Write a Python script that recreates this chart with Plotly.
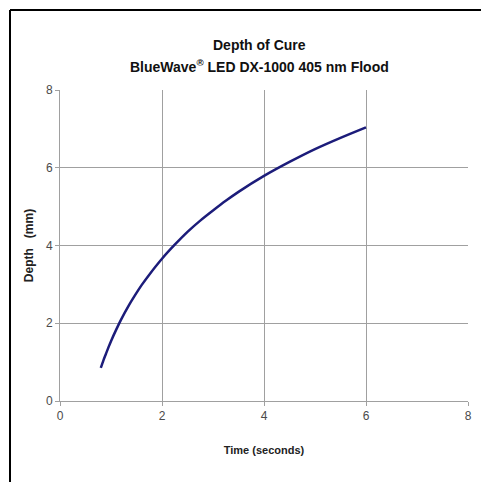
import plotly.graph_objects as go

time_s = [0.8, 0.85, 0.9, 0.95, 1.0, 1.1, 1.2, 1.35, 1.5, 1.6, 1.75, 2.0, 2.25, 2.5, 2.75,
          3.0, 3.25, 3.5, 4.0, 4.5, 5.0, 5.5, 6.0]
depth_mm = [0.85, 1.04, 1.21, 1.38, 1.54, 1.83, 2.1, 2.46, 2.78, 2.98, 3.25, 3.66, 4.02, 4.35,
            4.64, 4.9, 5.15, 5.38, 5.79, 6.15, 6.48, 6.77, 7.04]
x_ticks = [0, 2, 4, 6, 8]
y_ticks = [0, 2, 4, 6, 8]
title_lines = ["Depth of Cure", "BlueWave<sup>®</sup> LED DX-1000 405 nm Flood"]

FONT = "Liberation Sans, Arial, sans-serif"
W, H = 481, 482
L, R, T, B = 60, 13, 90, 81
PW, PH = W - L - R, H - T - B


def px_x(px):
    return (px - L) / PW


def px_y(py):
    return (H - B - py) / PH


fig = go.Figure()
fig.add_trace(go.Scatter(
    x=time_s, y=depth_mm, mode="lines",
    line=dict(color="#1c1c7a", width=2.5, shape="spline", smoothing=0.8),
    showlegend=False, hoverinfo="skip",
))

annotations = []
for text, cy in zip(title_lines, [45, 66]):
    annotations.append(dict(
        text=f"<b>{text}</b>", xref="paper", yref="paper",
        x=px_x(259), y=px_y(cy), xanchor="center", yanchor="middle",
        showarrow=False, font=dict(family=FONT, size=14, color="#111111"),
    ))

fig.update_layout(
    template="none",
    width=W, height=H,
    margin=dict(l=L, r=R, t=T, b=B, autoexpand=False),
    paper_bgcolor="white", plot_bgcolor="white",
    font=dict(family=FONT, color="#444444", size=12),
    annotations=annotations,
    xaxis=dict(
        range=[0, 8], tickvals=x_ticks, ticktext=[str(v) for v in x_ticks],
        showgrid=True, gridcolor="#a0a0a0", gridwidth=1,
        showline=True, linecolor="#a0a0a0", linewidth=1,
        ticks="outside", ticklen=4, tickcolor="#a0a0a0",
        zeroline=False, fixedrange=True, automargin=False,
        tickfont=dict(family=FONT, size=12, color="#4a4a4a"),
        title=dict(text="<b>Time (seconds)</b>", standoff=23,
                   font=dict(family=FONT, size=11, color="#222222")),
    ),
    yaxis=dict(
        range=[0, 8], tickvals=y_ticks, ticktext=[str(v) for v in y_ticks],
        showgrid=True, gridcolor="#a0a0a0", gridwidth=1,
        showline=True, linecolor="#a0a0a0", linewidth=1,
        ticks="outside", ticklen=4, tickcolor="#a0a0a0",
        zeroline=False, fixedrange=True, automargin=False,
        tickfont=dict(family=FONT, size=12, color="#4a4a4a"),
        title=dict(text="<b>Depth&nbsp;&nbsp;&nbsp;(mm)</b>", standoff=9,
                   font=dict(family=FONT, size=12, color="#222222")),
    ),
    shapes=[
        dict(type="line", xref="paper", yref="paper",
             x0=px_x(10), x1=px_x(10), y0=px_y(10), y1=px_y(486),
             line=dict(color="black", width=2)),
        dict(type="line", xref="paper", yref="paper",
             x0=px_x(10), x1=px_x(486), y0=px_y(10), y1=px_y(10),
             line=dict(color="black", width=2)),
    ],
)

fig.write_html(
    "out.html",
    config={"displayModeBar": False, "staticPlot": True},
    post_script="document.body.style.margin='0px';document.body.style.overflow='hidden';",
)
